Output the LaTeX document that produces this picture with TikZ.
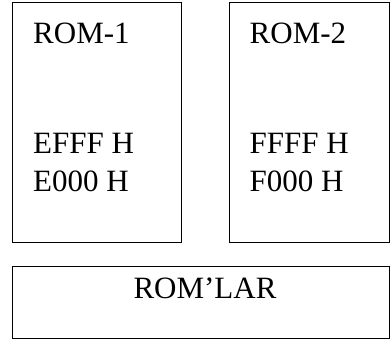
\documentclass[tikz,border=0pt]{standalone}
\usepackage{fontspec}
\setmainfont{Liberation Serif}
\begin{document}
\begin{tikzpicture}[x=1pt,y=-1pt,
  box/.style={draw=black,line width=1pt,inner sep=0pt},
  lbl/.style={anchor=base west,inner sep=0pt,font=\fontsize{31}{31}\selectfont}]
\useasboundingbox (0,0) rectangle (390,343);
\node[box,minimum width=169pt,minimum height=240pt] (rom1) at (97.2,122.7) {};
\node[box,minimum width=160pt,minimum height=240pt] (rom2) at (309.3,122.7) {};
\node[box,minimum width=376.6pt,minimum height=72.3pt] (roms) at (201,302.8) {};
\node[lbl] (r1) at (33,43.3) {ROM-1};
\node[lbl] (r1a) at (33,153.3) {EFFF H};
\node[lbl] (r1b) at (33,191.7) {E000 H};
\node[lbl] (r2) at (249.5,43.3) {ROM-2};
\node[lbl] (r2a) at (249.5,153.3) {FFFF H};
\node[lbl] (r2b) at (249.5,191.7) {F000 H};
\node[lbl,anchor=base] (rl) at (205,298.3) {ROM’LAR};
\end{tikzpicture}
\end{document}
